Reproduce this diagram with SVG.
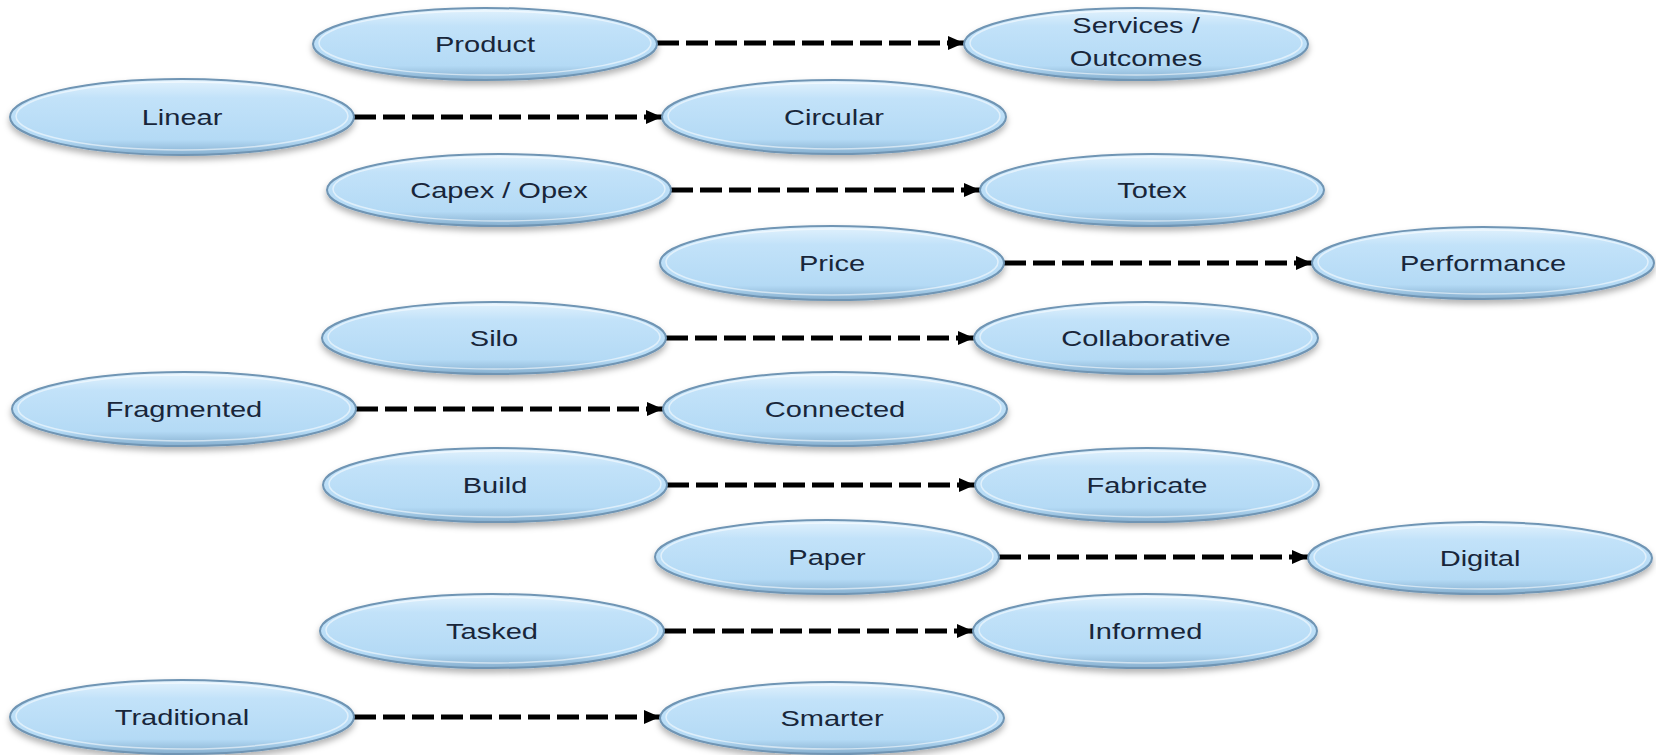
<svg xmlns="http://www.w3.org/2000/svg" width="1656" height="755" viewBox="0 0 1656 755">
<defs>
  <linearGradient id="fillG" x1="0" y1="0" x2="0" y2="1">
    <stop offset="0" stop-color="#e2f2fd"/>
    <stop offset="0.25" stop-color="#c2e2f9"/>
    <stop offset="0.8" stop-color="#b4daf5"/>
    <stop offset="1" stop-color="#86afcf"/>
  </linearGradient>
  <filter id="sh" x="-10%" y="-30%" width="120%" height="170%">
    <feDropShadow dx="0" dy="4" stdDeviation="3" flood-color="#000" flood-opacity="0.3"/>
  </filter>
  <marker id="ah" markerUnits="userSpaceOnUse" markerWidth="18" markerHeight="14" refX="16" refY="7" orient="auto">
    <path d="M0,0 L16,7 L0,14 Z" fill="#000"/>
  </marker>
  <style>
    .node ellipse.b { fill: url(#fillG); stroke: #6f95b4; stroke-width: 2; filter: url(#sh); }
    .node ellipse.h { fill: none; stroke: #ffffff; stroke-opacity: 0.55; stroke-width: 1.5; }
    .node text { font-family: "Liberation Sans", Arial, sans-serif; font-size: 22px; fill: #18263a; text-anchor: middle; }
    .conn line { stroke: #000; stroke-width: 5; stroke-dasharray: 22 7; fill: none; marker-end: url(#ah); }
  </style>
</defs>
<rect width="1656" height="755" fill="#ffffff"/>

<g id="connectors" class="conn">
  <line x1="657" y1="43" x2="964" y2="43"/>
  <line x1="354" y1="117" x2="662" y2="117"/>
  <line x1="671" y1="190" x2="980" y2="190"/>
  <line x1="1004" y1="263" x2="1312" y2="263"/>
  <line x1="666" y1="338" x2="974" y2="338"/>
  <line x1="356" y1="409" x2="663" y2="409"/>
  <line x1="667" y1="485" x2="975" y2="485"/>
  <line x1="999" y1="557" x2="1308" y2="557"/>
  <line x1="664" y1="631" x2="973" y2="631"/>
  <line x1="354" y1="717" x2="660" y2="717"/>
</g>

<g id="n-product" class="node"><ellipse class="b" cx="485" cy="44" rx="172" ry="36"/><ellipse class="h" cx="485" cy="43" rx="166" ry="32"/><text transform="translate(485,52) scale(1.32,1)">Product</text></g>
<g id="n-services" class="node"><ellipse class="b" cx="1136" cy="44" rx="172" ry="36"/><ellipse class="h" cx="1136" cy="43" rx="166" ry="32"/><text transform="translate(1136,33) scale(1.32,1)">Services /</text><text transform="translate(1136,66) scale(1.32,1)">Outcomes</text></g>
<g id="n-linear" class="node"><ellipse class="b" cx="182" cy="117" rx="172" ry="38"/><ellipse class="h" cx="182" cy="116" rx="166" ry="34"/><text transform="translate(182,125) scale(1.32,1)">Linear</text></g>
<g id="n-circular" class="node"><ellipse class="b" cx="834" cy="117" rx="172" ry="37"/><ellipse class="h" cx="834" cy="116" rx="166" ry="33"/><text transform="translate(834,125) scale(1.32,1)">Circular</text></g>
<g id="n-capex" class="node"><ellipse class="b" cx="499" cy="190" rx="172" ry="36"/><ellipse class="h" cx="499" cy="189" rx="166" ry="32"/><text transform="translate(499,198) scale(1.32,1)">Capex / Opex</text></g>
<g id="n-totex" class="node"><ellipse class="b" cx="1152" cy="190" rx="172" ry="36"/><ellipse class="h" cx="1152" cy="189" rx="166" ry="32"/><text transform="translate(1152,198) scale(1.32,1)">Totex</text></g>
<g id="n-price" class="node"><ellipse class="b" cx="832" cy="263" rx="172" ry="37"/><ellipse class="h" cx="832" cy="262" rx="166" ry="33"/><text transform="translate(832,271) scale(1.32,1)">Price</text></g>
<g id="n-performance" class="node"><ellipse class="b" cx="1483" cy="263" rx="171" ry="36"/><ellipse class="h" cx="1483" cy="262" rx="165" ry="32"/><text transform="translate(1483,271) scale(1.32,1)">Performance</text></g>
<g id="n-silo" class="node"><ellipse class="b" cx="494" cy="338" rx="172" ry="36"/><ellipse class="h" cx="494" cy="337" rx="166" ry="32"/><text transform="translate(494,346) scale(1.32,1)">Silo</text></g>
<g id="n-collaborative" class="node"><ellipse class="b" cx="1146" cy="338" rx="172" ry="36"/><ellipse class="h" cx="1146" cy="337" rx="166" ry="32"/><text transform="translate(1146,346) scale(1.32,1)">Collaborative</text></g>
<g id="n-fragmented" class="node"><ellipse class="b" cx="184" cy="409" rx="172" ry="37"/><ellipse class="h" cx="184" cy="408" rx="166" ry="33"/><text transform="translate(184,417) scale(1.32,1)">Fragmented</text></g>
<g id="n-connected" class="node"><ellipse class="b" cx="835" cy="409" rx="172" ry="37"/><ellipse class="h" cx="835" cy="408" rx="166" ry="33"/><text transform="translate(835,417) scale(1.32,1)">Connected</text></g>
<g id="n-build" class="node"><ellipse class="b" cx="495" cy="485" rx="172" ry="37"/><ellipse class="h" cx="495" cy="484" rx="166" ry="33"/><text transform="translate(495,493) scale(1.32,1)">Build</text></g>
<g id="n-fabricate" class="node"><ellipse class="b" cx="1147" cy="485" rx="172" ry="37"/><ellipse class="h" cx="1147" cy="484" rx="166" ry="33"/><text transform="translate(1147,493) scale(1.32,1)">Fabricate</text></g>
<g id="n-paper" class="node"><ellipse class="b" cx="827" cy="557" rx="172" ry="37"/><ellipse class="h" cx="827" cy="556" rx="166" ry="33"/><text transform="translate(827,565) scale(1.32,1)">Paper</text></g>
<g id="n-digital" class="node"><ellipse class="b" cx="1480" cy="558" rx="172" ry="36"/><ellipse class="h" cx="1480" cy="557" rx="166" ry="32"/><text transform="translate(1480,566) scale(1.32,1)">Digital</text></g>
<g id="n-tasked" class="node"><ellipse class="b" cx="492" cy="631" rx="172" ry="37"/><ellipse class="h" cx="492" cy="630" rx="166" ry="33"/><text transform="translate(492,639) scale(1.32,1)">Tasked</text></g>
<g id="n-informed" class="node"><ellipse class="b" cx="1145" cy="631" rx="172" ry="37"/><ellipse class="h" cx="1145" cy="630" rx="166" ry="33"/><text transform="translate(1145,639) scale(1.32,1)">Informed</text></g>
<g id="n-traditional" class="node"><ellipse class="b" cx="182" cy="717" rx="172" ry="37"/><ellipse class="h" cx="182" cy="716" rx="166" ry="33"/><text transform="translate(182,725) scale(1.32,1)">Traditional</text></g>
<g id="n-smarter" class="node"><ellipse class="b" cx="832" cy="718" rx="172" ry="36"/><ellipse class="h" cx="832" cy="717" rx="166" ry="32"/><text transform="translate(832,726) scale(1.32,1)">Smarter</text></g>
</svg>
